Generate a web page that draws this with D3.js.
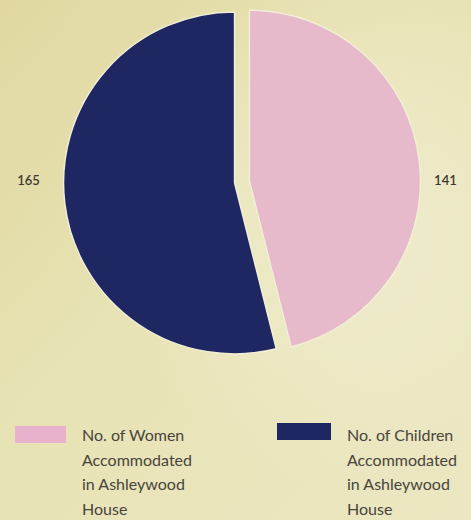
<!DOCTYPE html>
<html>
<head>
<meta charset="utf-8">
<script src="https://cdn.jsdelivr.net/npm/d3@7"></script>
<style>
  html, body { margin: 0; padding: 0; background: #e8e3b6; }
  svg { display: block; }
</style>
</head>
<body>
<svg id="chart" width="471" height="520"></svg>
<script>
const categories = ["Women", "Children"];
const values = [141, 165];
const colors = ["#e6b9cb", "#1e2762"];
const legendLines = [
  ["No. of Women", "Accommodated", "in Ashleywood", "House"],
  ["No. of Children", "Accommodated", "in Ashleywood", "House"]
];

const svg = d3.select("#chart");
const W = 471, H = 520;

const defs = svg.append("defs");
const lg = defs.append("linearGradient").attr("id", "bg")
  .attr("x1", "0").attr("y1", "0").attr("x2", "1").attr("y2", "1");
lg.append("stop").attr("offset", "0%").attr("stop-color", "#e0d8a0");
lg.append("stop").attr("offset", "45%").attr("stop-color", "#e8e3b5");
lg.append("stop").attr("offset", "100%").attr("stop-color", "#ebe7c2");
const rg = defs.append("radialGradient").attr("id", "glow")
  .attr("cx", "0.75").attr("cy", "0.45").attr("r", "0.5");
rg.append("stop").attr("offset", "0%").attr("stop-color", "#f2efd6").attr("stop-opacity", 0.7);
rg.append("stop").attr("offset", "100%").attr("stop-color", "#f2efd6").attr("stop-opacity", 0);

svg.append("rect").attr("width", W).attr("height", H).attr("fill", "url(#bg)");
svg.append("rect").attr("width", W).attr("height", H).attr("fill", "url(#glow)");

const cx = 242, cy = 182, r = 171, explode = 7.5;

const pie = d3.pie().sort(null).value(d => d);
const arcs = pie(values);
const arc = d3.arc().innerRadius(0).outerRadius(r);

const g = svg.append("g").attr("transform", `translate(${cx},${cy})`);
g.selectAll("path").data(arcs).enter().append("path")
  .attr("d", arc)
  .attr("fill", (d, i) => colors[i])
  .attr("stroke", "#f1eed5")
  .attr("stroke-width", 1.5)
  .attr("transform", d => {
    const mid = (d.startAngle + d.endAngle) / 2;
    return `translate(${Math.sin(mid) * explode},${-Math.cos(mid) * explode})`;
  });

// value labels
const labelR = 210;
g.selectAll("text.val").data(arcs).enter().append("text")
  .attr("class", "val")
  .attr("x", d => {
    const mid = (d.startAngle + d.endAngle) / 2;
    return -5 + Math.sin(mid) * labelR;
  })
  .attr("y", 0)
  .attr("text-anchor", "middle")
  .attr("dominant-baseline", "middle")
  .attr("font-family", "Lato, 'Open Sans', sans-serif")
  .attr("font-size", 13)
  .attr("font-weight", 600)
  .attr("fill", "#3e3a32")
  .text(d => d.data);

// legend
const legendX = [15, 277];
const legend = svg.selectAll("g.leg").data(categories).enter().append("g")
  .attr("class", "leg")
  .attr("transform", (d, i) => `translate(${legendX[i]},423)`);
legend.append("rect")
  .attr("x", 0).attr("y", (d, i) => i === 0 ? 3 : 0)
  .attr("width", (d, i) => i === 0 ? 51 : 54)
  .attr("height", 17)
  .attr("fill", (d, i) => i === 0 ? "#e8b2cc" : colors[i]);
legend.each(function(d, i) {
  const tx = i === 0 ? 67 : 70;
  const t = d3.select(this).append("text")
    .attr("x", tx)
    .attr("y", 18)
    .attr("font-family", "Lato, 'Open Sans', sans-serif")
    .attr("font-size", 16)
    .attr("fill", "#48443c");
  legendLines[i].forEach((line, k) => {
    t.append("tspan").attr("x", tx).attr("dy", k === 0 ? 0 : 24.5).text(line);
  });
});
</script>
</body>
</html>
